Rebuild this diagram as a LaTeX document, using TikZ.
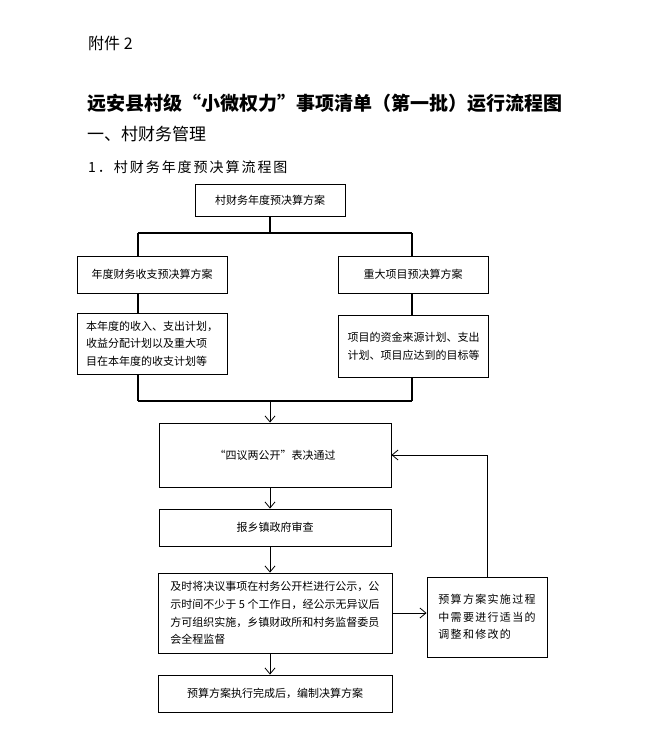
\documentclass[tikz,border=0pt]{standalone}
\usepackage{fontspec}
\setmainfont{Noto Sans CJK SC}
\newfontfamily\widecjk[LetterSpace=12]{Noto Sans CJK SC}
\newfontfamily\subcjk[LetterSpace=14]{Noto Sans CJK SC}
\usetikzlibrary{arrows.meta}
\tikzset{
  box/.style={draw, line width=0.9pt, inner sep=0pt, align=center,
    font={\fontsize{11}{17.7}\selectfont}},
  textbox/.style={box, align=left},
  tree/.style={line width=1.8pt},
  arr/.style={line width=0.8pt, -{Straight Barb[length=6pt,width=10pt]}}
}

\begin{document}
\begin{tikzpicture}[x=1pt, y=-1pt]
		%%%%% START %%%%%
		\useasboundingbox[fill=white] (0,0) rectangle (653,749);
		
		% headings
		\node[anchor=west, inner sep=0pt, font={\fontsize{16}{16}\selectfont}] (fujian) at (88,43) {附件 2};
		\node[anchor=west, inner sep=0pt, font={\fontsize{19}{19}\selectfont\bfseries}] (title) at (87,103) {远安县村级“小微权力”事项清单（第一批）运行流程图};
		\node[anchor=west, inner sep=0pt, font={\fontsize{17}{17}\selectfont}] (part) at (87,134) {一、村财务管理};
		\node[anchor=west, inner sep=0pt, font={\fontsize{14}{14}\selectfont\subcjk}] (sub) at (88,167) {1．村财务年度预决算流程图};
		
		% budget plans
		\node[box, minimum width=150, minimum height=32] (plan) at (270,200) {村财务年度预决算方案};
		\node[box, minimum width=150, minimum height=37] (yearplan) at (152,274.5) {年度财务收支预决算方案};
		\node[box, minimum width=150, minimum height=37] (bigplan) at (413,274.5) {重大项目预决算方案};
		\node[textbox, minimum width=150, minimum height=61] (yeartext) at (152,343.5) {本年度的收入、支出计划，\\收益分配计划以及重大项\\目在本年度的收支计划等};
		\node[textbox, minimum width=150, minimum height=62] (bigtext) at (413.5,346) {项目的资金来源计划、支出\\计划、项目应达到的目标等};
		
		\coordinate (jl) at (138,233);
		\coordinate (jr) at (412,233);
		\coordinate (ml) at (138,401);
		\coordinate (mr) at (412,401);
		\coordinate (ax) at (270,401);
		
		\draw[tree] (plan.south) -- (plan.south |- jl);
		\draw[tree] (jl) -- (jr);
		\draw[tree] (jl) -- (jl |- yearplan.north);
		\draw[tree] (jr) -- (jr |- bigplan.north);
		\draw[tree] (jl |- yearplan.south) -- (jl |- yeartext.north);
		\draw[tree] (jr |- bigplan.south) -- (jr |- bigtext.north);
		\draw[tree] (jl |- yeartext.south) -- (ml);
		\draw[tree] (jr |- bigtext.south) -- (mr);
		\draw[tree] (ml) -- (mr);
		
		% procedure
		\node[box, minimum width=232, minimum height=64] (vote) at (275,455) {“四议两公开”表决通过};
		\node[box, minimum width=232, minimum height=37] (check) at (275,527.5) {报乡镇政府审查};
		\node[textbox, minimum width=234, minimum height=80] (notice) at (275,613) {及时将决议事项在村务公开栏进行公示，公\\示时间不少于 5 个工作日，经公示无异议后\\方可组织实施，乡镇财政所和村务监督委员\\会全程监督};
		\node[box, minimum width=234, minimum height=37] (final) at (275,693.5) {预算方案执行完成后，编制决算方案};
		\node[box, align=left, minimum width=120, minimum height=80, font={\fontsize{11}{17.7}\selectfont\widecjk}] (adjust) at (487,617) {预算方案实施过程\\中需要进行适当的\\调整和修改的};
		
		\draw[arr] (ax) -- (ax |- vote.north);
		\draw[arr] (ax |- vote.south) -- (ax |- check.north);
		\draw[arr] (ax |- check.south) -- (ax |- notice.north);
		\draw[arr] (ax |- notice.south) -- (ax |- final.north);
		\draw[arr] (notice.east) -- (notice.east -| adjust.west);
		\draw[arr] (adjust.north) |- (vote.east);
		
		%%%%% END %%%%%
	\end{tikzpicture}
\end{document}
